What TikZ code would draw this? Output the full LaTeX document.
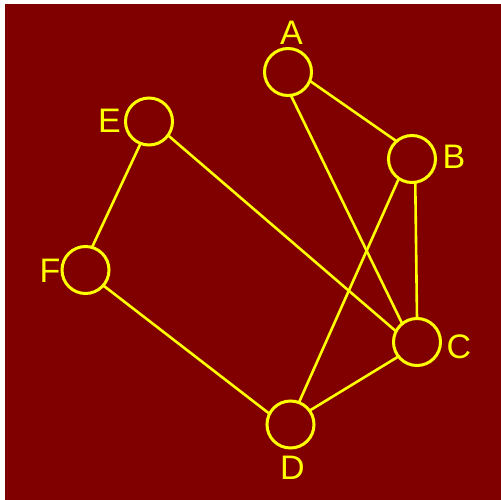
\documentclass[tikz,border=0pt]{standalone}
\usepackage{fontspec}
\setmainfont{Liberation Sans}
\definecolor{graphbg}{HTML}{800000}
\definecolor{graphfg}{HTML}{FFFF00}
\tikzset{
  vertex/.style={draw=graphfg, fill=graphbg, circle, line width=3pt, minimum size=47pt, inner sep=0pt, outer sep=0pt},
  vertexlabel/.style={text=graphfg, inner sep=0pt, font=\fontsize{34}{40}\selectfont},
  graphedge/.style={draw=graphfg, line width=2.6pt}
}

\begin{document}
\begin{tikzpicture}[x=1pt,y=-1pt]
\useasboundingbox (0,0) rectangle (501,500);
\fill[graphbg] (5,4) rectangle (501,500);
\node[vertex] (A) at (288,72) {};
\node[vertex] (B) at (412,159) {};
\node[vertex] (C) at (417,342) {};
\node[vertex] (D) at (290.5,424.5) {};
\node[vertex] (E) at (149,121.5) {};
\node[vertex] (F) at (85.5,270) {};
\node[vertexlabel] (labA) at (291.5,33) {A};
\node[vertexlabel] (labB) at (454,157) {B};
\node[vertexlabel] (labC) at (459,347) {C};
\node[vertexlabel] (labD) at (292.5,468) {D};
\node[vertexlabel] (labE) at (109.5,121) {E};
\node[vertexlabel] (labF) at (50,270.5) {F};
\draw[graphedge] (A.-22) -- (B.131);
\draw[graphedge] (A.-83) -- (C.129);
\draw[graphedge] (B.278) -- (C.90);
\draw[graphedge] (B.236) -- (D.69);
\draw[graphedge] (C.218) -- (D.36);
\draw[graphedge] (E.-36) -- (C.153);
\draw[graphedge] (E.249) -- (F.74);
\draw[graphedge] (F.-41) -- (D.153);
\end{tikzpicture}
\end{document}
